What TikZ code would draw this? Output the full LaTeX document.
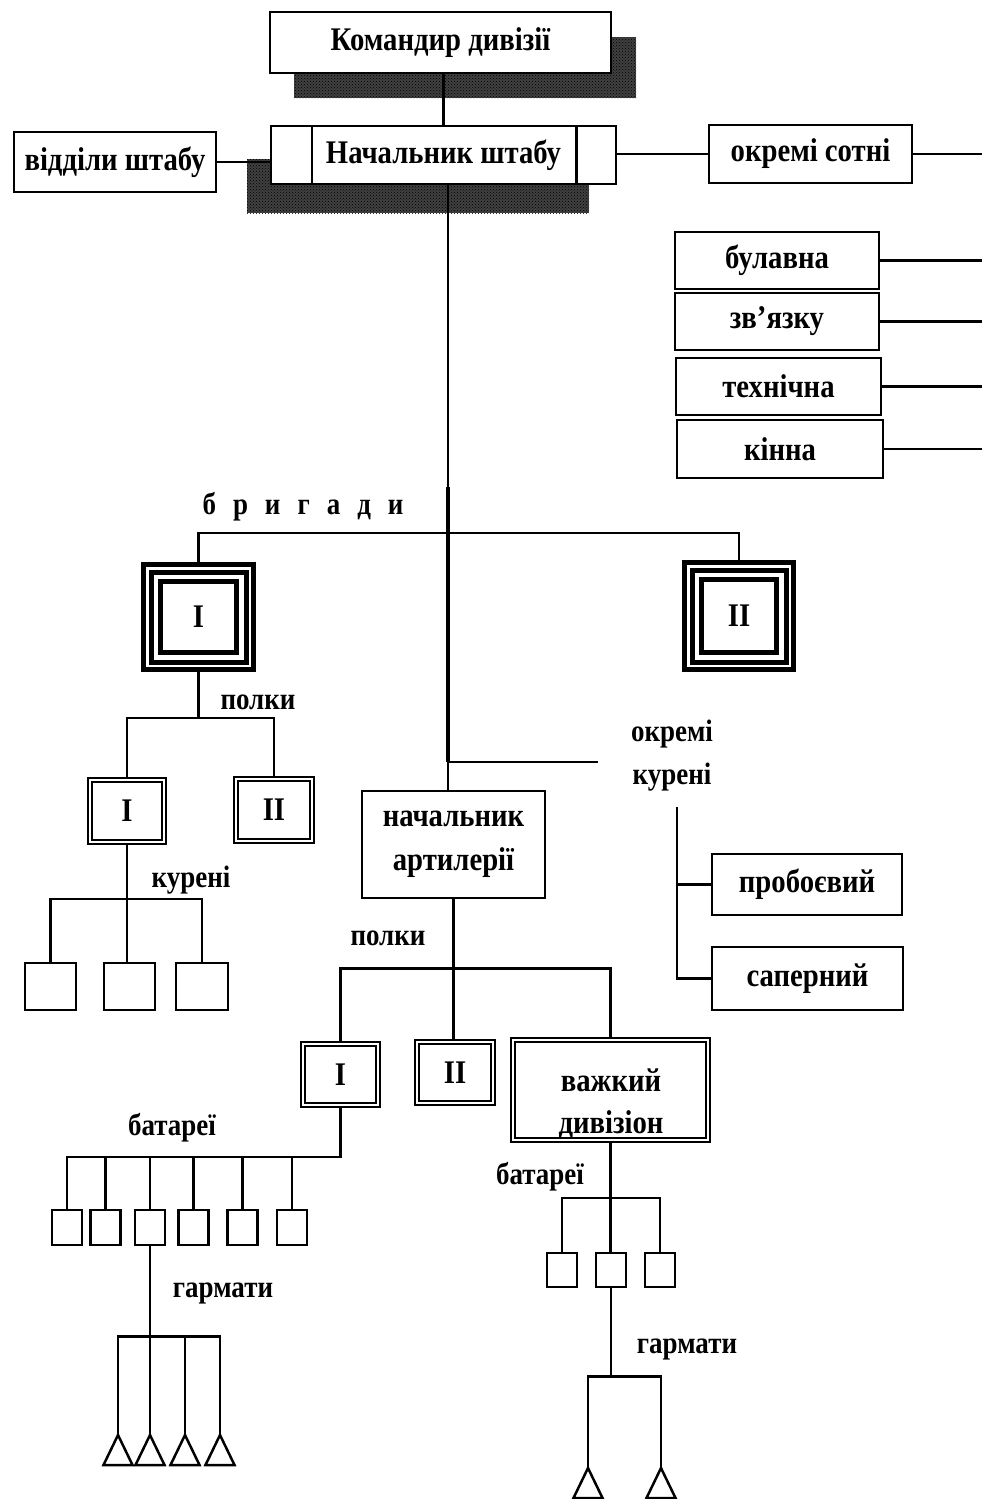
\documentclass[tikz,border=0pt]{standalone}
\usepackage{fontspec}
\setmainfont{Liberation Serif}[FakeStretch=0.87]
\usetikzlibrary{patterns}
\newcommand\boxfont{\fontsize{33}{44}\selectfont\bfseries}
\newcommand\labfont{\fontsize{31}{43}\selectfont\bfseries}
\begin{document}
\begin{tikzpicture}[x=1pt,y=-1pt,line width=2.5pt,
  box/.style={draw,fill=white,line width=2.5pt,inner sep=0pt,font=\boxfont,align=center},
  dbox/.style={draw,fill=white,double,double distance=2.2pt,line width=1.7pt,inner sep=0pt,font=\boxfont,align=center},
  sbox/.style={draw,fill=white,line width=2.5pt,inner sep=0pt},
  tbox/.style={draw,fill=white,line width=5pt,inner sep=0pt,font=\boxfont},
  lab/.style={inner sep=0pt,font=\labfont,align=center},
  shadow/.style={fill=black!75},
  shadowpat/.style={pattern=crosshatch dots,pattern color=black},
  spine/.style={line width=4.5pt},
  tri/.style={line width=2.5pt,line join=miter}]
\useasboundingbox (0,0) rectangle (982,1499);
\fill[white] (0,0) rectangle (982,1499);

% shadows
\fill[shadow] (294,37) rectangle (636,98);
\fill[shadowpat] (294,37) rectangle (636,98);
\fill[shadow] (247,159) rectangle (589,213);
\fill[shadowpat] (247,159) rectangle (589,213);

% top boxes
\node[box,minimum width=341pt,minimum height=61pt] (cmd) at (440.5,42.5) {Командир дивізії};
\node[box,minimum width=345pt,minimum height=58pt] (chief) at (443.5,155) {Начальник штабу};
\draw ([xshift=42pt]chief.north west) -- ([xshift=42pt]chief.south west);
\draw ([xshift=-41pt]chief.north east) -- ([xshift=-41pt]chief.south east);
\node[box,minimum width=202pt,minimum height=60pt] (viddily) at (115,162) {відділи штабу};
\node[box,minimum width=203pt,minimum height=58pt] (sotni) at (810.5,154) {окремі сотні};
\node[box,minimum width=204pt,minimum height=57pt] (bulavna) at (777,260.5) {булавна};
\node[box,minimum width=204pt,minimum height=57pt] (zv) at (777,321.5) {зв'язку};
\node[box,minimum width=205pt,minimum height=57pt] (tekh) at (778.5,386.5) {технічна};
\node[box,minimum width=206pt,minimum height=58pt] (kinna) at (780,449) {кінна};
\coordinate (edge) at (982,0);

\draw (chief.north |- cmd.south) -- (chief.north);
\draw (viddily.east) -- (viddily.east -| chief.west);
\draw (sotni.west -| chief.east) -- (sotni.west);
\draw (sotni.east) -- (sotni.east -| edge);
\draw (bulavna.east) -- (bulavna.east -| edge);
\draw (zv.east) -- (zv.east -| edge);
\draw (tekh.east) -- (tekh.east -| edge);
\draw (kinna.east) -- (kinna.east -| edge);

% spine
\coordinate (sp1) at (448,487);
\coordinate (sp2) at (448,762);
\coordinate (brig) at (448,533);
\draw (chief.south -| sp1) -- (sp1);
\draw[spine] (sp1) -- (sp2);

% brigades
\node[lab] (lbrig) at (303,507) {б\hskip17pt р\hskip17pt и\hskip17pt г\hskip17pt а\hskip17pt д\hskip17pt и};
\node[tbox,minimum width=110pt,minimum height=105pt] (b1) at (198.5,617) {I};
\draw[line width=5pt] ([shift={(10,10)}]b1.north west) rectangle ([shift={(-10,-10)}]b1.south east);
\draw[line width=5pt] ([shift={(19.5,19.5)}]b1.north west) rectangle ([shift={(-19.5,-19.5)}]b1.south east);
\node[tbox,minimum width=109pt,minimum height=107pt] (b2) at (739,616) {II};
\draw[line width=5pt] ([shift={(10,10)}]b2.north west) rectangle ([shift={(-10,-10)}]b2.south east);
\draw[line width=5pt] ([shift={(19.5,19.5)}]b2.north west) rectangle ([shift={(-19.5,-19.5)}]b2.south east);
\draw (b1.north) |- (brig) -| (b2.north);

% regiments of brigade I
\node[lab] (lpolk1) at (258,702) {полки};
\node[dbox,minimum width=74pt,minimum height=62pt] (r1) at (127,811) {I};
\node[dbox,minimum width=76pt,minimum height=62pt] (r2) at (274,810) {II};
\path (b1.south) ++(0,46) coordinate (pb);
\draw (b1.south) -- (pb);
\draw (r1.north) |- (pb) -| (r2.north);

% kureni
\node[lab] (lkur) at (191,880) {курені};
\node[sbox,minimum width=51pt,minimum height=47pt] (k1) at (50.5,986.5) {};
\node[sbox,minimum width=51pt,minimum height=47pt] (k2) at (129.5,986.5) {};
\node[sbox,minimum width=52pt,minimum height=47pt] (k3) at (202,986.5) {};
\path (r1.south) ++(0,56) coordinate (kb);
\draw (r1.south) -- (r1.south |- k2.north);
\draw (k1.north) |- (kb) -| (k3.north);

% separate kureni
\node[lab] (lokr) at (672,756) {окремі\\курені};
\coordinate (okrend) at (598,762);
\draw (sp2) -- (okrend);
\node[box,minimum width=190pt,minimum height=61pt] (prob) at (807,884.5) {пробоєвий};
\node[box,minimum width=191pt,minimum height=63pt] (saper) at (807.5,978.5) {саперний};
\coordinate (kt) at (677,807);
\draw (kt) |- (saper.west);
\draw (kt |- prob.west) -- (prob.west);

% artillery
\node[box,minimum width=183pt,minimum height=107pt] (art) at (453.5,844.5) {начальник\\артилерії};
\draw (sp2) -- (sp2 |- art.north);
\node[lab] (lpolk2) at (388,938) {полки};
\node[dbox,minimum width=75pt,minimum height=61pt] (ar1) at (340.5,1074.5) {I};
\node[dbox,minimum width=76pt,minimum height=61pt] (ar2) at (455,1072.5) {II};
\node[dbox,minimum width=195pt,minimum height=100pt] (heavy) at (610.5,1090) {};
\node[lab,font=\boxfont] (heavyt) at (611,1104) {важкий\\[-2pt]дивізіон};
\path (art.south) ++(0,69) coordinate (ab);
\draw (art.south) -- (art.south |- ar2.north);
\draw (ar1.north) |- (ab) -| (heavy.north);

% batteries of regiment I
\node[lab] (lbat1) at (172,1128) {батареї};
\foreach \n/\x in {1/67,2/105.5,3/150,4/193.5,5/242.5,6/292}
  \node[sbox,minimum width=30pt,minimum height=35pt] (bt\n) at (\x,1227.5) {};
\path (ar1.south) ++(0,51) coordinate (bb);
\draw (ar1.south) -- (bb) -| (bt1.north);
\foreach \n in {2,...,6} \draw (bt\n.north) -- (bt\n.north |- bb);

% guns left
\node[lab] (lgar1) at (223,1293) {гармати};
\coordinate (g1) at (118,1435);
\coordinate (g2) at (150,1435);
\coordinate (g3) at (185,1435);
\coordinate (g4) at (220,1435);
\path (bt3.south) ++(0,90) coordinate (gb);
\draw (bt3.south) -- (bt3.south |- g2);
\draw (g1) |- (gb) -| (g4);
\draw (g3) -- (g3 |- gb);
\foreach \g in {g1,g2,g3,g4}
  \draw[tri] (\g) -- ++(14.5,30) -- ++(-29,0) -- cycle;

% heavy division batteries
\node[lab] (lbat2) at (540,1177) {батареї};
\node[sbox,minimum width=30pt,minimum height=34pt] (hb1) at (562,1270) {};
\node[sbox,minimum width=30pt,minimum height=34pt] (hb2) at (611,1270) {};
\node[sbox,minimum width=30pt,minimum height=34pt] (hb3) at (660,1270) {};
\path (heavy.south) ++(0,57) coordinate (hb);
\draw (heavy.south) -- (heavy.south |- hb2.north);
\draw (hb1.north) |- (hb) -| (hb3.north);

% guns right
\node[lab] (lgar2) at (687,1349) {гармати};
\coordinate (h1) at (588,1468);
\coordinate (h2) at (661,1468);
\path (hb2.south) ++(0,88) coordinate (hg);
\draw (hb2.south) -- (hg);
\draw (h1) |- (hg) -| (h2);
\foreach \g in {h1,h2}
  \draw[tri] (\g) -- ++(14.5,30) -- ++(-29,0) -- cycle;
\end{tikzpicture}
\end{document}
